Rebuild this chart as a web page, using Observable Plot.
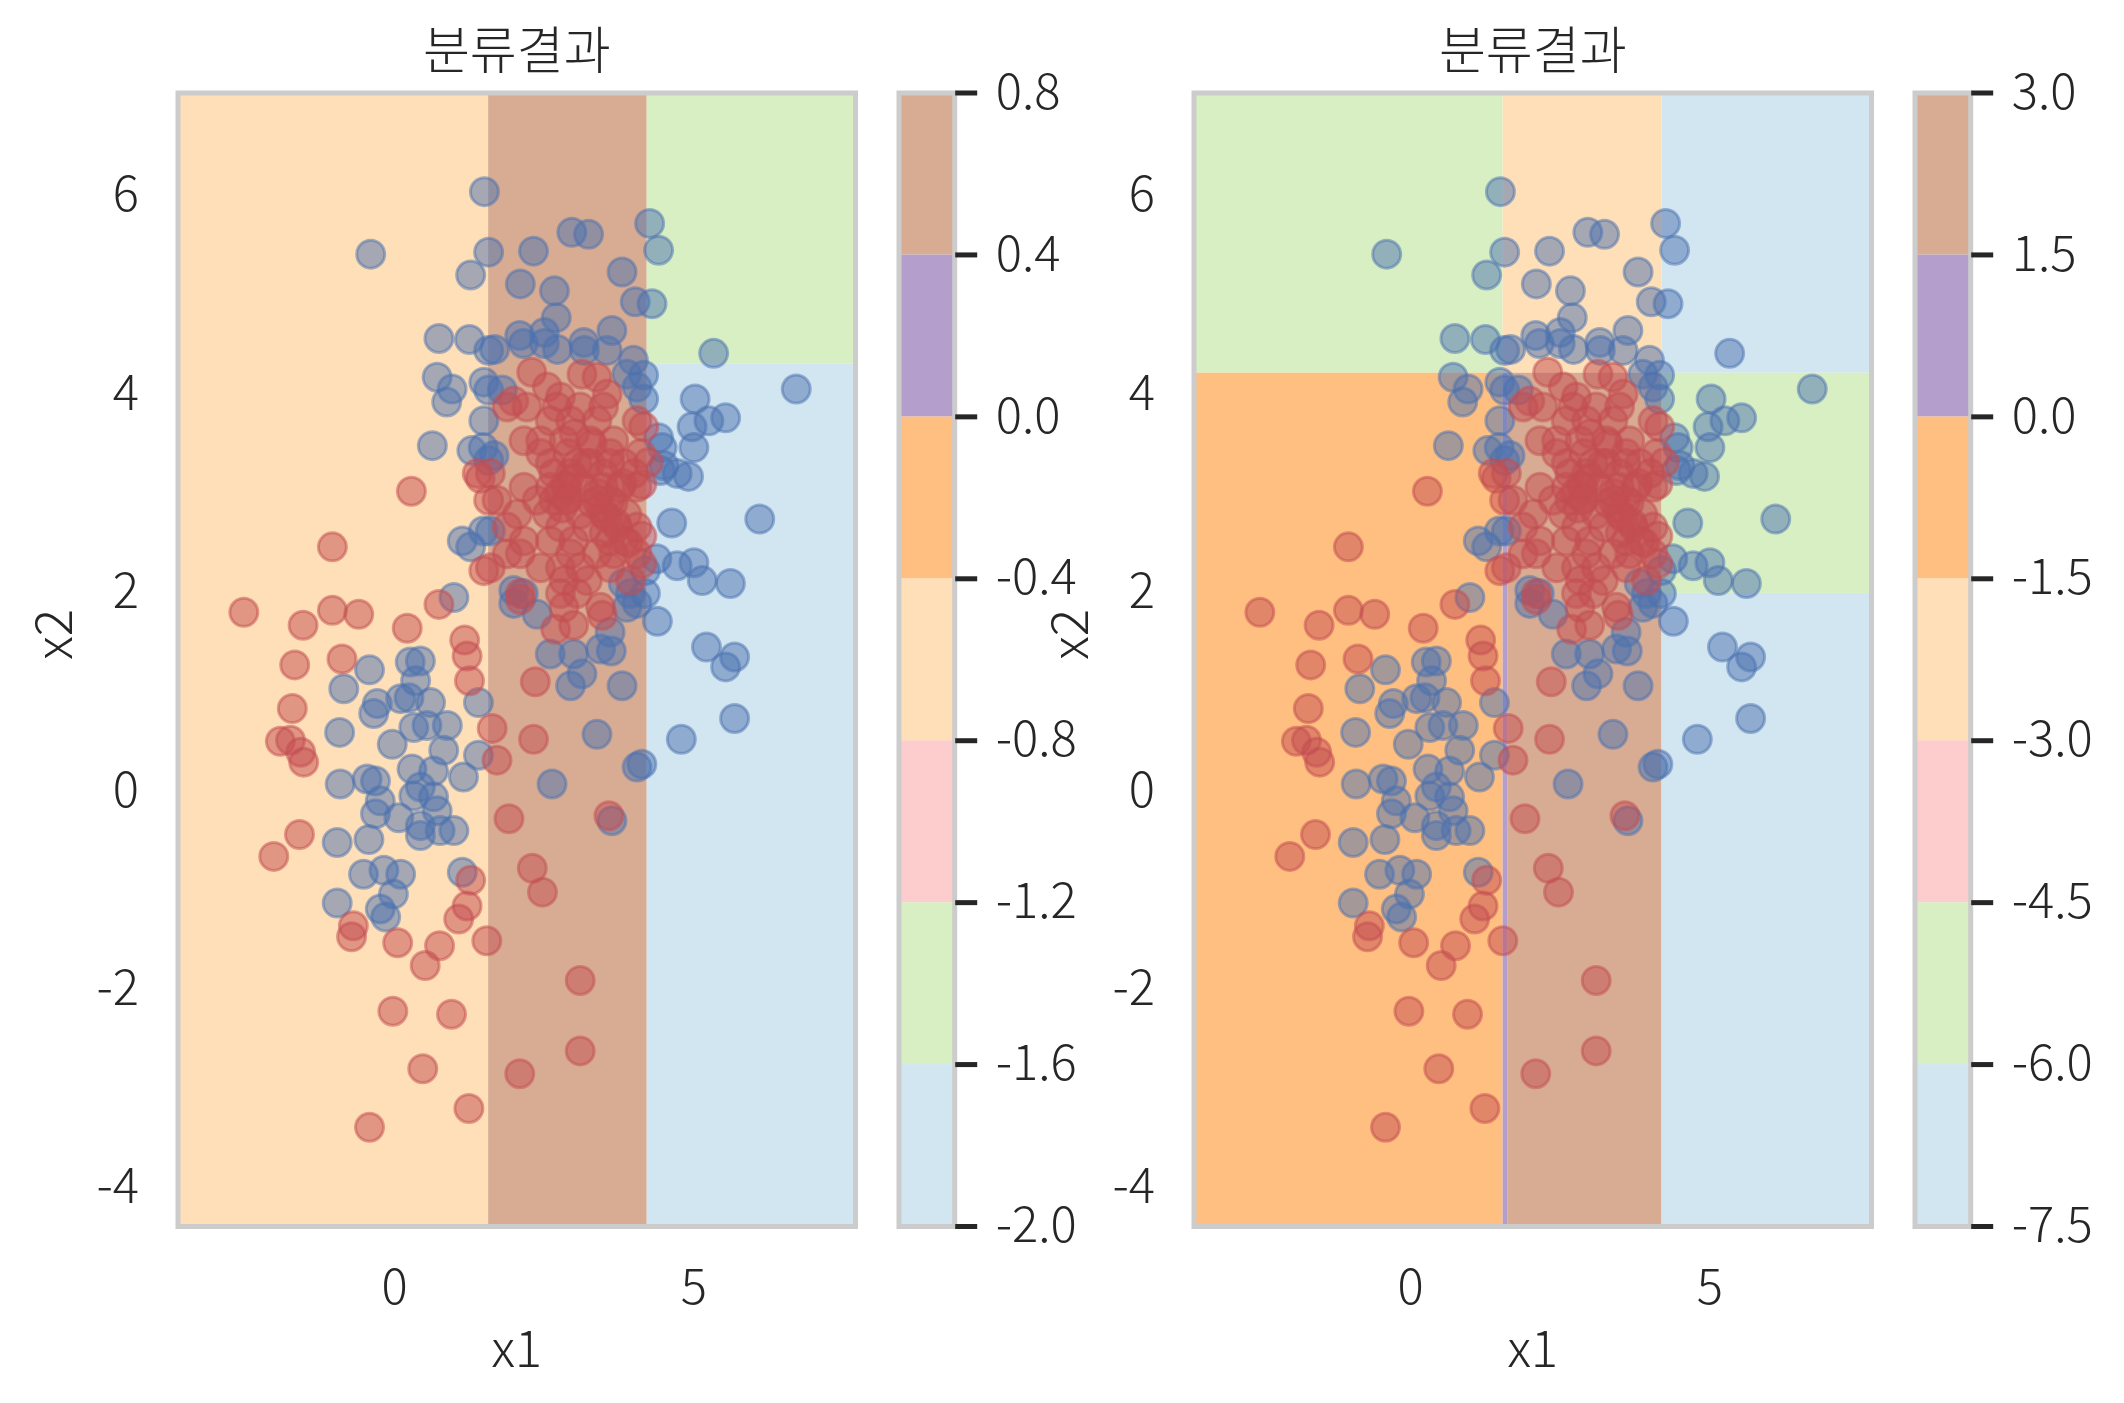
<!DOCTYPE html>
<html><head><meta charset="utf-8">
<script src="https://cdn.jsdelivr.net/npm/d3@7"></script>
<script src="https://cdn.jsdelivr.net/npm/@observablehq/plot@0.6"></script>
<style>
body{margin:0;background:#fff;}
#root{position:relative;width:2124px;height:1403px;overflow:hidden;background:#fff;}
#root svg{position:absolute;top:0;}
</style></head><body><div id="root"></div>
<script>
// ---------- data ----------
const x1Ticks = [0, 5];
const x2Ticks = [-4, -2, 0, 2, 4, 6];
const xDomain = [-3.62, 7.70];
const yDomain = [-4.39, 7.034];
const titleText = "분류결과";

const levelsLeft = [-2.0, -1.6, -1.2, -0.8, -0.4, 0.0, 0.4, 0.8];
const levelsRight = [-7.5, -6.0, -4.5, -3.0, -1.5, 0.0, 1.5, 3.0];

// decision regions: [x1, x2, y1, y2, band]
const regionsLeft = [
  [-3.62, 1.57, -4.39, 7.034, 3],
  [1.57, 4.22, -4.39, 7.034, 6],
  [4.22, 7.70, 4.30, 7.034, 1],
  [4.22, 7.70, -4.39, 4.30, 0]
];
const regionsRight = [
  [-3.62, 1.545, 4.21, 7.034, 1],
  [-3.62, 1.545, -4.39, 4.21, 4],
  [1.545, 4.20, 4.21, 7.034, 3],
  [1.545, 1.63, -4.39, 4.21, 5],
  [1.63, 4.20, -4.39, 4.21, 6],
  [4.20, 7.70, 4.21, 7.034, 0],
  [4.20, 7.70, 1.99, 4.21, 1],
  [4.20, 7.70, -4.39, 1.99, 0]
];

const bluePoints = [
[1.50,6.04],[-0.40,5.41],[1.57,5.43],[1.27,5.20],[0.74,4.56],[1.25,4.55],[1.57,4.44],[0.71,4.17],[0.96,4.05],[0.87,3.92],[1.49,4.12],[1.57,4.04],[1.49,3.73],[0.63,3.48],[1.29,3.43],[1.48,3.46],[1.57,3.33],[1.13,2.52],[1.48,2.62],[1.27,2.46],
[2.96,5.63],[3.24,5.61],[4.26,5.72],[4.41,5.45],[2.32,5.44],[2.10,5.11],[2.67,5.04],[3.80,5.23],[4.02,4.93],[4.30,4.91],[2.70,4.77],[2.09,4.59],[2.15,4.51],[2.50,4.62],[2.50,4.51],[2.72,4.45],[3.16,4.52],[3.17,4.44],[3.63,4.64],[3.55,4.44],[1.67,4.45],[3.99,4.34],[3.88,4.20],[4.16,4.19],[4.05,4.07],[4.16,3.95],[1.80,4.04],
[5.33,4.41],[6.71,4.05],[5.02,3.95],[4.97,3.67],[5.25,3.73],[5.53,3.76],[5.00,3.46],[4.41,3.56],[4.47,3.46],[4.50,3.28],[4.72,3.20],[4.91,3.17],[4.63,2.70],[6.10,2.74],[4.38,2.34],[4.72,2.27],[5.00,2.30],[5.14,2.12],[5.61,2.09],[4.19,2.22],[4.19,1.99],[4.39,1.71],[5.21,1.45],[5.68,1.35],[5.53,1.25],[5.68,0.73],[4.79,0.52],[4.13,0.27],[4.44,3.23],
[1.40,0.89],[1.40,0.36],[3.38,0.57],[3.80,1.06],[4.05,0.24],[2.63,0.07],[2.94,1.06],[3.13,1.18],[2.60,1.38],[2.99,1.38],[3.44,1.43],[3.60,1.60],[2.38,1.78],[3.88,1.85],[1.99,1.89],[3.63,-0.30],[1.66,3.38],[1.60,2.62],[1.99,2.02],[2.15,1.99],[3.94,1.99],[4.05,1.89],[3.82,2.09],[3.62,1.41],
[0.99,1.95],[-0.85,1.03],[-0.42,1.22],[0.26,1.30],[0.43,1.31],[0.35,1.11],[0.10,0.93],[0.24,0.94],[-0.29,0.88],[-0.35,0.78],[0.60,0.89],[0.32,0.64],[0.54,0.66],[0.88,0.66],[-0.92,0.59],[-0.04,0.47],[0.82,0.41],[0.29,0.22],[0.65,0.20],[1.15,0.14],[-0.91,0.07],[-0.46,0.12],[-0.32,0.10],[0.43,0.04],[-0.24,-0.10],[-0.32,-0.23],[0.07,-0.27],[0.32,-0.05],[0.65,-0.06],[0.71,-0.20],[0.43,-0.35],[0.43,-0.45],[0.76,-0.40],[0.99,-0.40],[-0.96,-0.52],[-0.43,-0.49],[-0.52,-0.84],[-0.18,-0.80],[0.10,-0.84],[-0.02,-1.04],[-0.96,-1.13],[-0.24,-1.19],[-0.15,-1.27],[1.13,-0.82]
];

const redPoints = [
[1.43,3.15],[1.57,2.93],[0.28,3.02],[-1.04,2.46],[2.29,4.22],[2.55,4.07],[3.13,4.20],[3.38,4.17],[3.55,4.00],[2.77,3.97],[1.99,3.93],[4.16,3.67],[4.24,3.31],[4.13,3.09],[4.13,2.57],[4.13,2.29],
[1.88,3.87],[2.21,3.87],[2.71,3.87],[3.10,3.87],[3.49,3.87],
[2.60,3.73],[2.94,3.73],[3.38,3.73],[4.05,3.73],
[2.16,3.53],[2.44,3.53],[2.83,3.53],[3.27,3.53],[3.66,3.53],
[2.44,3.40],[3.60,3.40],[4.11,3.40],
[3.05,3.30],[3.27,3.30],[3.83,3.30],
[1.38,3.20],[1.60,3.20],[2.66,3.20],[2.94,3.20],[3.49,3.20],[4.00,3.20],
[2.16,3.06],[2.60,3.06],[2.88,3.06],[3.16,3.06],[3.49,3.06],[3.77,3.06],[4.05,3.06],
[1.71,2.93],[2.38,2.93],[2.66,2.93],[2.88,2.93],[3.38,2.93],[3.60,2.93],
[2.05,2.79],[2.55,2.79],[3.10,2.79],[3.49,2.79],[3.88,2.79],
[1.88,2.66],[2.77,2.66],[3.22,2.66],[3.72,2.66],[4.05,2.66],
[2.16,2.52],[2.60,2.52],[2.99,2.52],[3.60,2.52],[3.83,2.52],
[1.88,2.39],[2.10,2.39],[2.94,2.39],[3.38,2.39],[3.66,2.39],[4.05,2.39],
[1.60,2.25],[2.44,2.25],[2.77,2.25],[3.10,2.25],[3.60,2.25],
[2.83,2.12],[3.22,2.12],[3.94,2.12],
[2.10,1.99],[2.77,1.99],[3.05,1.99],
[2.83,1.85],[3.44,1.85],
[2.75,3.00],[2.85,3.08],[2.90,2.95],[2.80,2.85],[3.45,2.85],[3.55,2.75],[3.65,2.90],[3.70,2.70],[3.50,2.60],[3.40,3.00],[3.30,2.90],[3.00,3.15],[3.20,3.30],[3.30,3.50],[3.00,3.60],[2.90,3.40],[2.60,3.30],[3.60,3.30],[3.80,3.10],[3.90,2.50],
[2.69,1.63],[2.99,1.67],[3.47,1.77],[2.10,1.93],
[2.35,1.10],[2.32,0.52],[1.63,0.63],[1.71,0.31],[1.91,-0.28],[3.58,-0.25],
[-2.52,1.80],[-1.53,1.67],[-1.04,1.82],[-0.60,1.78],[0.21,1.64],[0.74,1.88],[1.49,2.22],[1.17,1.52],[1.21,1.36],[1.25,1.11],[-1.67,1.27],[-0.88,1.33],[-1.71,0.83],[-1.91,0.50],[-1.74,0.51],[-1.57,0.39],[-1.52,0.29],
[-1.59,-0.44],[-2.02,-0.66],[1.27,-0.90],[1.21,-1.16],[1.07,-1.29],[1.54,-1.51],[-0.69,-1.36],[-0.72,-1.47],[0.05,-1.53],[0.75,-1.56],[0.51,-1.76],[3.10,-1.91],[-0.03,-2.22],[0.95,-2.25],[3.10,-2.62],[2.09,-2.85],[0.47,-2.80],[1.24,-3.20],[-0.42,-3.39],[2.30,-0.78],[2.47,-1.02]
];

// ---------- style ----------
const FONT = "'Noto Sans CJK KR','Noto Sans',sans-serif";
const FS = 49;
const FST = 51;
const TEXT = "#262626";
const bandPalette = ["#d2e6f1", "#d8efc4", "#fdcccc", "#fedfb7", "#ffbf80", "#b49ecc", "#d8ac93"];
const BLUE = "#4c72b0", RED = "#c44e52";
const colorOpt = {type: "ordinal", domain: d3.range(7), range: bandPalette};

const root = document.getElementById("root");

function place(svg, left) {
  svg.style.left = left + "px";
  svg.style.background = "transparent";
  root.appendChild(svg);
}

function mainPanel(regions) {
  const dotStyle = (c) => ({x: d => d[0], y: d => d[1], r: 14, fill: c, fillOpacity: 0.5, stroke: c, strokeOpacity: 0.5, strokeWidth: 3});
  return Plot.plot({
    width: 880, height: 1403,
    marginLeft: 177.5, marginRight: 25, marginTop: 92.5, marginBottom: 177,
    style: {fontFamily: FONT, fontSize: FS + "px", fontWeight: 300, color: TEXT, background: "transparent", overflow: "visible"},
    x: {domain: xDomain},
    y: {domain: yDomain},
    color: colorOpt,
    marks: [
      Plot.rect(regions, {x1: d => d[0], x2: d => d[1], y1: d => d[2], y2: d => d[3], fill: d => d[4]}),
      Plot.dot(bluePoints, dotStyle(BLUE)),
      Plot.dot(redPoints, dotStyle(RED)),
      Plot.frame({stroke: "#cccccc", strokeWidth: 5}),
      Plot.axisX(x1Ticks, {tickSize: 0, tickPadding: 43, label: null, tickFormat: d => String(d), fontSize: FS}),
      Plot.axisY(x2Ticks, {tickSize: 0, tickPadding: 39, label: null, tickFormat: d => String(d), fontSize: FS}),
      Plot.text([titleText], {text: d => d, frameAnchor: "top", dy: -40, lineAnchor: "middle", fontSize: FST}),
      Plot.text(["x1"], {text: d => d, frameAnchor: "bottom", dy: 124, lineAnchor: "middle", fontSize: FST}),
      Plot.text(["x2"], {text: d => d, frameAnchor: "left", dx: -122, rotate: -90, lineAnchor: "middle", fontSize: FST})
    ]
  });
}

function colorbar(levels) {
  const bands = d3.range(levels.length - 1).map(i => ({lo: levels[i], hi: levels[i + 1], band: i}));
  return Plot.plot({
    width: 224, height: 1403,
    marginLeft: 18.5, marginRight: 149.8, marginTop: 92.5, marginBottom: 177,
    style: {fontFamily: FONT, fontSize: FS + "px", fontWeight: 300, color: TEXT, background: "transparent", overflow: "visible"},
    x: {domain: [0, 1], axis: null},
    y: {domain: [levels[0], levels[levels.length - 1]]},
    color: colorOpt,
    marks: [
      Plot.rect(bands, {x1: 0, x2: 1, y1: "lo", y2: "hi", fill: "band"}),
      Plot.frame({stroke: "#cccccc", strokeWidth: 5}),
      Plot.axisY(levels, {anchor: "right", tickSize: 22, tickPadding: 19, strokeWidth: 5, stroke: TEXT, label: null, tickFormat: d => d.toFixed(1), fontSize: FS})
    ]
  });
}

place(mainPanel(regionsLeft), 0);
place(colorbar(levelsLeft), 880);
place(mainPanel(regionsRight), 1016);
place(colorbar(levelsRight), 1896);
</script>
</body></html>
